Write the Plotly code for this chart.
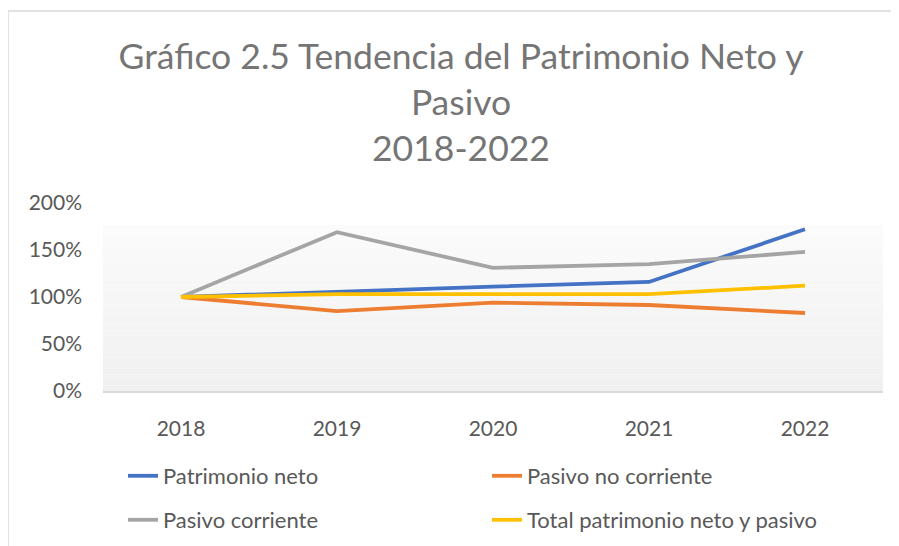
import plotly.graph_objects as go

years = ["2018", "2019", "2020", "2021", "2022"]
patrimonio_neto = [1.00, 1.06, 1.11, 1.16, 1.72]
pasivo_no_corriente = [1.00, 0.85, 0.94, 0.915, 0.83]
pasivo_corriente = [1.00, 1.69, 1.31, 1.35, 1.48]
total_pn_pasivo = [1.00, 1.03, 1.03, 1.03, 1.12]
y_ticks = [0, 0.5, 1.0, 1.5, 2.0]
y_tick_labels = ["0%", "50%", "100%", "150%", "200%"]

series = [
    ("Patrimonio neto", patrimonio_neto, "#4472C4", "legend"),
    ("Pasivo no corriente", pasivo_no_corriente, "#ED7D31", "legend"),
    ("Pasivo corriente", pasivo_corriente, "#A5A5A5", "legend2"),
    ("Total patrimonio neto y pasivo", total_pn_pasivo, "#FFC000", "legend2"),
]

OFF = 8  # page body margin
W, H = 899, 546
# target plot area on screen: x 103..883, y 203..391
L, R, T, B = 103 - OFF, 16 + OFF, 203 - OFF, 155 + OFF
PW, PH = W - L - R, H - T - B
FONT = "Lato"

def px_x(px):
    return (px - OFF - L) / PW

def px_y(py):
    return (H - B - (py - OFF)) / PH

def cx(px):
    return (px - OFF) / W

def cy(py):
    return 1 - (py - OFF) / H

fig = go.Figure()

# drop lines (from highest value down to axis)
for i, yr in enumerate(years):
    top = max(s[1][i] for s in series)
    fig.add_shape(type="line", xref="x", yref="y", x0=yr, x1=yr, y0=0, y1=top,
                  line=dict(color="#D9D9D9", width=1.5), layer="below")

for name, vals, color, lg in series:
    fig.add_trace(go.Scatter(x=years, y=vals, name=name, mode="lines",
                             line=dict(color=color, width=3.8), legend=lg))

# gradient plot-area background
n = 30
top_frac = px_y(225)
for k in range(n):
    y0 = top_frac * k / n
    y1 = top_frac * (k + 1) / n
    t = k / (n - 1)
    c = int(round(240 + (251 - 240) * t))
    fig.add_shape(type="rect", xref="paper", yref="paper", x0=0, x1=1, y0=y0, y1=y1,
                  fillcolor=f"rgb({c},{c},{c})", line=dict(width=0), layer="below")

# chart border
fig.add_shape(type="rect", xref="paper", yref="paper",
              x0=px_x(8), x1=px_x(W + 20),
              y0=px_y(H + 20), y1=px_y(11),
              line=dict(color="#D9D9D9", width=1.5), fillcolor="rgba(0,0,0,0)", layer="below")

legend_common = dict(orientation="h", xanchor="left", yanchor="top",
                     xref="container", yref="container",
                     entrywidth=319, entrywidthmode="pixels",
                     font=dict(family=FONT, size=22, color="#595959"),
                     bgcolor="rgba(0,0,0,0)")

fig.update_layout(
    width=W, height=H,
    margin=dict(l=L, r=R, t=T, b=B, autoexpand=False),
    paper_bgcolor="white", plot_bgcolor="rgba(0,0,0,0)",
    title=dict(text="Gráfico 2.5 Tendencia del Patrimonio Neto y<br>Pasivo<br>2018-2022",
               x=cx(461), xanchor="center", xref="container",
               y=cy(69), yanchor="top", yref="container",
               font=dict(family=FONT, size=35.5, color="#757575")),
    font=dict(family=FONT, color="#595959"),
    legend=dict(x=cx(123), y=cy(455), **legend_common),
    legend2=dict(x=cx(123), y=cy(499), **legend_common),
    showlegend=True,
)

fig.update_xaxes(type="category", range=[-0.5, 4.5], showgrid=False,
                 showline=True, linecolor="#D9D9D9", linewidth=1.5,
                 ticks="", tickfont=dict(family=FONT, size=21, color="#595959"),
                 ticklabelstandoff=18, zeroline=False)
fig.update_yaxes(range=[0, 2.0], tickvals=y_ticks, ticktext=y_tick_labels,
                 showgrid=False, zeroline=False, showline=False, ticks="",
                 tickfont=dict(family=FONT, size=21, color="#595959"),
                 ticklabelstandoff=20)

fig.write_html("out.html")
